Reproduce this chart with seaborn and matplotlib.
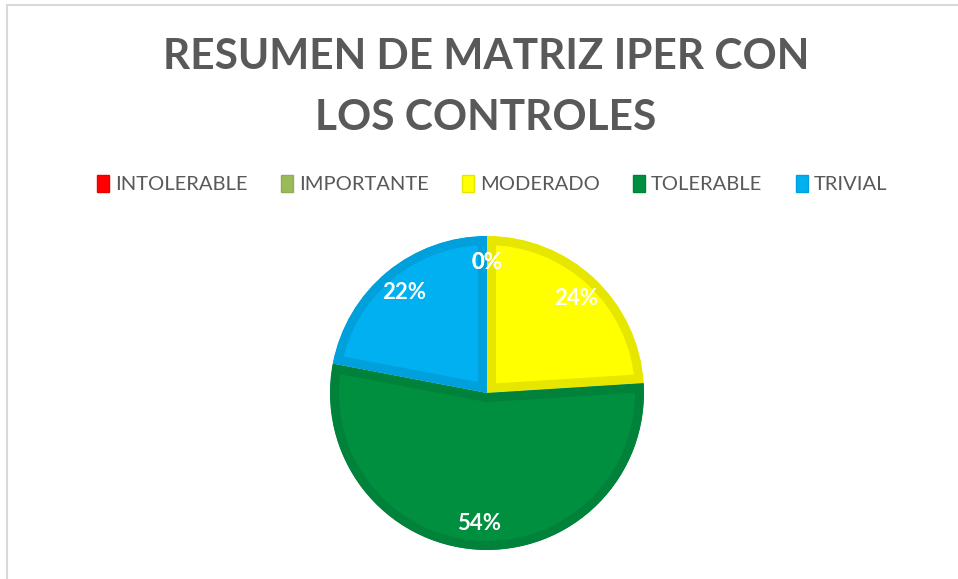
import matplotlib
matplotlib.use("Agg")
import matplotlib.pyplot as plt
import seaborn as sns
from matplotlib.patches import Patch
from matplotlib.lines import Line2D

categorias = ["INTOLERABLE", "IMPORTANTE", "MODERADO", "TOLERABLE", "TRIVIAL"]
porcentajes = [0, 0, 24, 54, 22]
colores = ["#FF0000", "#9BBB59", "#FFFF00", "#008F3F", "#00B0F0"]
bordes = ["#E60000", "#8CAE50", "#E6E600", "#00823A", "#00A0DC"]
titulo = ["RESUMEN DE MATRIZ IPER CON", "LOS CONTROLES"]

sns.set_theme(style="white")
plt.rcParams["font.family"] = ["Lato", "DejaVu Sans"]

fig = plt.figure(figsize=(9.58, 5.79), dpi=100)
W, H = 958, 579

# marco gris del area del grafico
fig.add_artist(Line2D([6.5 / W, 6.5 / W], [0, 1 - 4.5 / H], color="#D9D9D9", lw=1.5))
fig.add_artist(Line2D([6.5 / W, 1], [1 - 4.5 / H, 1 - 4.5 / H], color="#D9D9D9", lw=1.5))

for i, linea in enumerate(titulo):
    fig.text(486 / W, 1 - (57 + 61 * i) / H, linea, ha="center", va="center",
             fontsize=30.5, fontweight="bold", color="#595959")

cx, cy, r = 487, 393, 157
ax = fig.add_axes([(cx - r) / W, (H - cy - r) / H, 2 * r / W, 2 * r / H])
wedges, textos, autotextos = ax.pie(
    porcentajes, colors=colores, startangle=90, counterclock=False,
    autopct=lambda p: f"{p:.0f}%", pctdistance=0.83,
    wedgeprops=dict(linewidth=13, joinstyle="miter"),
    textprops=dict(color="white", fontsize=16, fontweight="bold"))
# borde mas oscuro dibujado solo hacia dentro de cada porcion
for w, b in zip(wedges, bordes):
    w.set_edgecolor(b)
    w.set_clip_on(True)
    w.set_clip_path(w)
ax.set_xlim(-1, 1)
ax.set_ylim(-1, 1)
ax.set_aspect("equal")
ax.axis("off")

manejadores = [Patch(facecolor=c, edgecolor=b, linewidth=1, label=n)
               for n, c, b in zip(categorias, colores, bordes)]
fig.legend(handles=manejadores, loc="center", bbox_to_anchor=(492 / W, 1 - 184 / H),
           ncol=5, frameon=False, fontsize=14.5, labelcolor="#595959",
           handlelength=0.6, handleheight=0.9, handletextpad=0.3, columnspacing=1.65)

fig.savefig("out.png", dpi=100)
